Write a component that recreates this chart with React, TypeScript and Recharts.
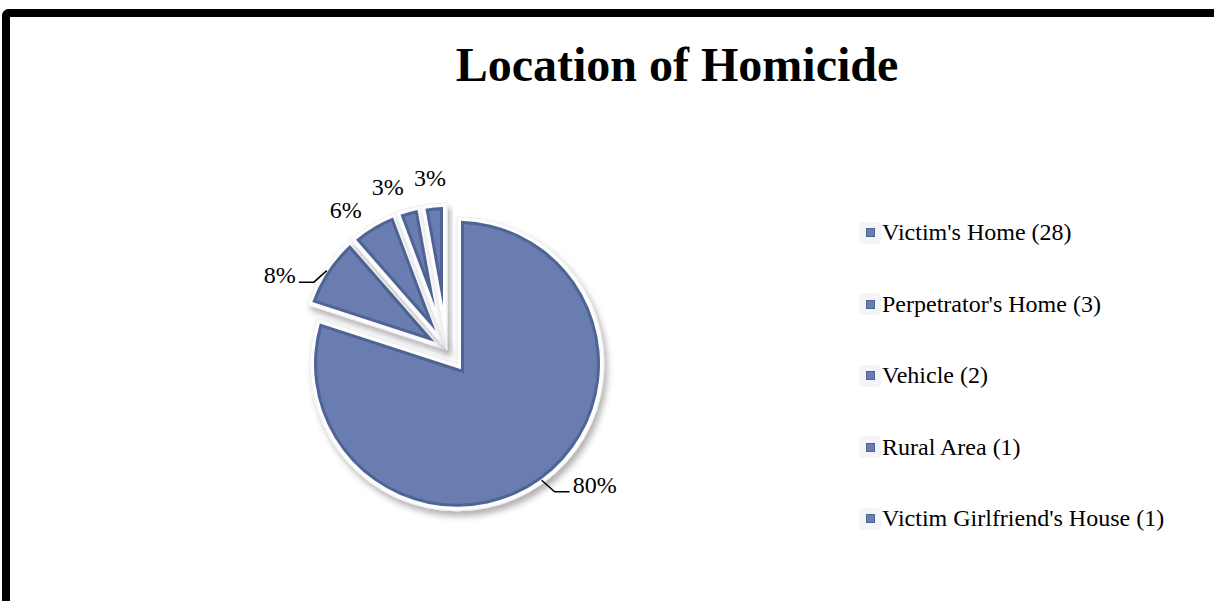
import { PieChart, Pie, Legend } from "recharts";

const LOCATIONS = [
  "Victim's Home",
  "Perpetrator's Home",
  "Vehicle",
  "Rural Area",
  "Victim Girlfriend's House",
];
const COUNTS = [28, 3, 2, 1, 1];
const PCT_LABELS = ["80%", "8%", "6%", "3%", "3%"];

const data = LOCATIONS.map((loc, i) => ({
  name: `${loc} (${COUNTS[i]})`,
  value: COUNTS[i],
}));

const FILL = "#6a7db0";
const EDGE = "#4f6394";
const RIM = 4;     // white border inside each slice outline
const BEVEL = 3;   // dark band inside the white border
const RAD = Math.PI / 180;
const FONT = "'Liberation Serif', 'Times New Roman', serif";

// only the big slice is pulled out of the pie
const explodeOf = (p: any) => ((p.percent ?? 0) > 0.5 ? 17 : 0);

const dir = (a: number) => [Math.cos(a * RAD), -Math.sin(a * RAD)];

function shift(cx: number, cy: number, angle: number, d: number) {
  const [dx, dy] = dir(angle);
  return [cx + d * dx, cy + d * dy];
}

// sector outline pushed inwards by `inset` px on every side
function slicePath(cx: number, cy: number, r: number, a1: number, a2: number, inset: number) {
  const span = a2 - a1;
  const s = Math.sign(span) || 1;
  const half = Math.abs(span) / 2;
  const mid = (a1 + a2) / 2;
  const [mx, my] = dir(mid);
  const off = inset > 0 ? inset / Math.sin(half * RAD) : 0;
  const vx = cx + mx * off, vy = cy + my * off;
  const rr = r - inset;
  const t = Math.sqrt(Math.max(rr * rr - inset * inset, 0));
  const [n1x, n1y] = dir(a1 + s * 90);
  const [n2x, n2y] = dir(a2 - s * 90);
  const [u1x, u1y] = dir(a1);
  const [u2x, u2y] = dir(a2);
  const p1x = cx + n1x * inset + u1x * t, p1y = cy + n1y * inset + u1y * t;
  const p2x = cx + n2x * inset + u2x * t, p2y = cy + n2y * inset + u2y * t;
  const large = Math.abs(span) > 180 ? 1 : 0;
  const sweep = s < 0 ? 1 : 0;
  return `M${vx},${vy}L${p1x},${p1y}A${rr},${rr} 0 ${large} ${sweep} ${p2x},${p2y}Z`;
}

const ExplodedSlice = (props: any) => {
  const { cx, cy, outerRadius, startAngle, endAngle } = props;
  const mid = (startAngle + endAngle) / 2;
  const [x, y] = shift(cx, cy, mid, explodeOf(props));
  return (
    <g>
      <path d={slicePath(x, y, outerRadius, startAngle, endAngle, 0)} fill="#fdfdfe" stroke="#eceef3" strokeWidth={1}
        filter="url(#sliceShadow)" />
      <path d={slicePath(x, y, outerRadius, startAngle, endAngle, RIM)} fill={EDGE} />
      <path d={slicePath(x, y, outerRadius, startAngle, endAngle, RIM + BEVEL)} fill={FILL} />
    </g>
  );
};

const renderLabel = (props: any) => {
  const { cx, cy, startAngle, endAngle, outerRadius, index } = props;
  const mid = (startAngle + endAngle) / 2;
  const [x, y] = shift(cx, cy, mid, explodeOf(props));
  const text = PCT_LABELS[index];
  const style = { fontFamily: FONT, fontSize: 24, fill: "#000" };

  if (COUNTS[index] >= 3) {
    // leader line: short diagonal going down and outward, then a horizontal tail
    const [dx, dy] = dir(mid);
    const side = dx >= 0 ? 1 : -1;
    const sx = x + (outerRadius - 3) * dx, sy = y + (outerRadius - 3) * dy;
    const ex = sx + side * 13, ey = sy + 11.5;
    const hx = ex + side * 15;
    return (
      <g>
        <path d={`M${sx},${sy}L${ex},${ey}L${hx},${ey}`} stroke="#000" strokeWidth={1.5} fill="none" />
        <text x={hx + side * 3} y={ey - 7} textAnchor={side > 0 ? "start" : "end"} dominantBaseline="central" style={style}>
          {text}
        </text>
      </g>
    );
  }
  // thin slices near the top: labels fanned a little to the left so they do not crowd
  const norm = ((mid % 360) + 360) % 360;
  const nudge = Math.min(5, Math.max(0, (norm - 94) * 0.4));
  const [lx, ly] = shift(x, y, mid + nudge, outerRadius + 26);
  return (
    <text x={lx} y={ly} textAnchor="middle" dominantBaseline="central" style={style}>
      {text}
    </text>
  );
};

const renderLegend = ({ payload }: any) => {
  const items = [...(payload || [])].sort(
    (a: any, b: any) => data.findIndex((d) => d.name === a.value) - data.findIndex((d) => d.name === b.value)
  );
  return (
    <ul style={{ listStyle: "none", margin: 0, padding: 0 }}>
      {items.map((entry: any) => (
        <li key={entry.value} style={{ height: 71.5, display: "flex", alignItems: "center" }}>
          <span style={{ width: 22, height: 22, background: "#f4f5f9", borderRadius: 4, display: "flex",
            alignItems: "center", justifyContent: "center", marginRight: 1 }}>
            <span style={{ width: 9, height: 9, background: FILL, border: `1px solid ${EDGE}`, boxSizing: "border-box" }} />
          </span>
          <span style={{ fontFamily: FONT, fontSize: 24, color: "#000", whiteSpace: "nowrap" }}>{entry.value}</span>
        </li>
      ))}
    </ul>
  );
};

export default function App() {
  return (
    <div style={{
      position: "absolute", left: 2, top: 9, width: 1204, height: 584,
      borderTop: "8px solid #000", borderLeft: "8px solid #000", borderTopLeftRadius: 7, background: "#fff",
    }}>
      <div style={{ position: "relative", width: 1204, height: 584 }}>
        <div style={{
          position: "absolute", left: 367, top: 24, width: 600, textAlign: "center",
          fontFamily: FONT, fontWeight: "bold", fontSize: 48, lineHeight: "48px", color: "#000",
        }}>
          Location of Homicide
        </div>
        <PieChart width={1204} height={584} margin={{ top: 0, right: 0, bottom: 0, left: 0 }}>
          <defs>
            <filter id="sliceShadow" x="-20%" y="-20%" width="140%" height="140%">
              <feDropShadow dx={3} dy={5} stdDeviation={3} floodColor="#000" floodOpacity={0.3} />
            </filter>
          </defs>
          <Pie
            data={data}
            dataKey="value"
            nameKey="name"
            cx={437}
            cy={333}
            outerRadius={147}
            startAngle={90}
            endAngle={-270}
            fill={FILL}
            stroke="none"
            shape={ExplodedSlice}
            label={renderLabel}
            labelLine={false}
            isAnimationActive={false}
          />
          <Legend
            layout="vertical"
            align="right"
            verticalAlign="top"
            content={renderLegend}
            wrapperStyle={{ left: 849, top: 180, right: "auto", bottom: "auto", width: 340 }}
          />
        </PieChart>
      </div>
    </div>
  );
}
